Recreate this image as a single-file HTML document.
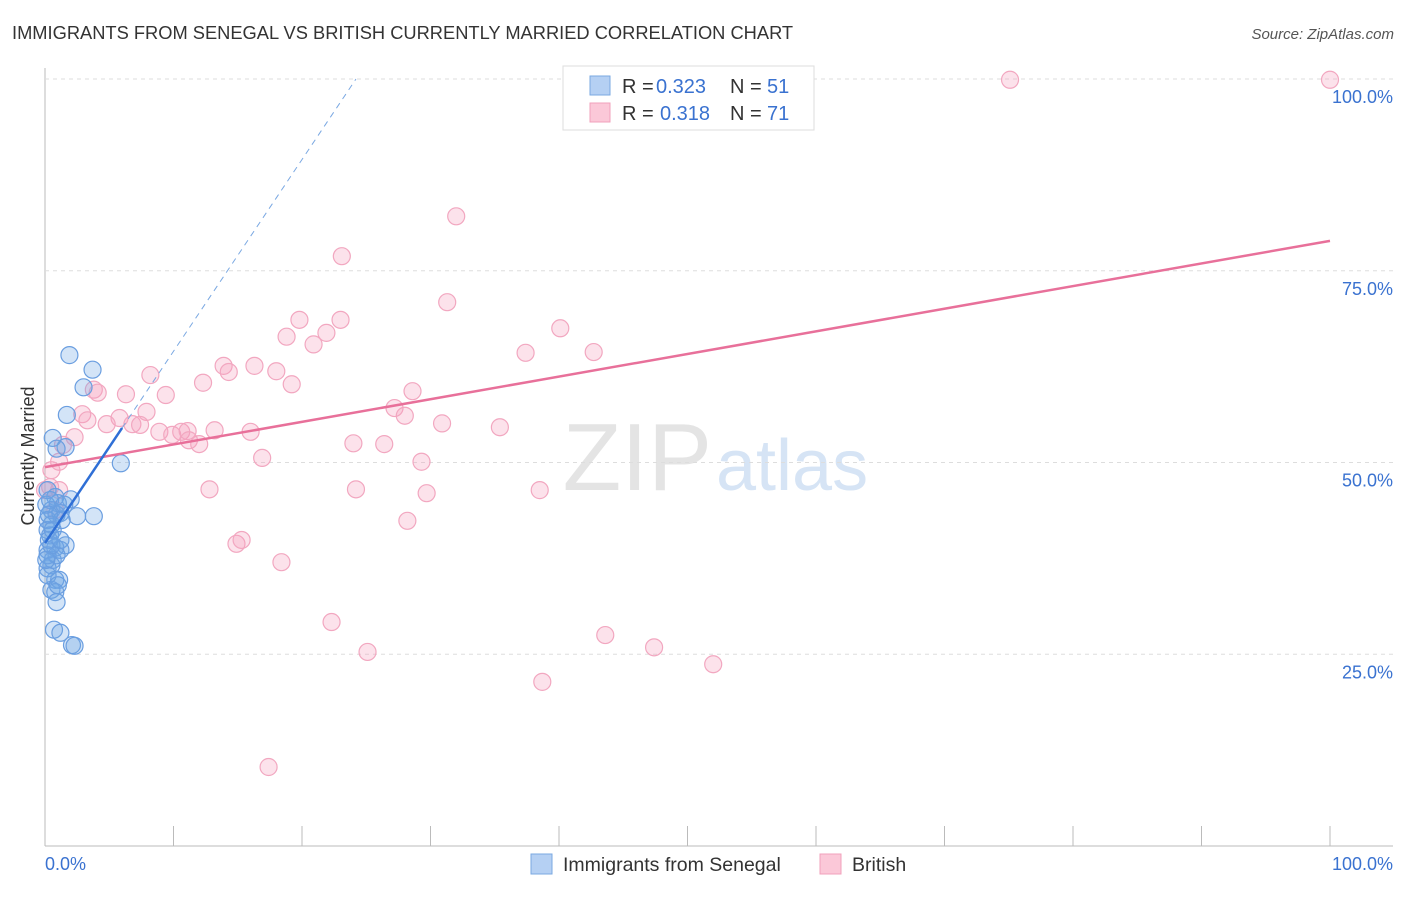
<!DOCTYPE html>
<html><head><meta charset="utf-8"><style>
body{margin:0;background:#fff;font-family:"Liberation Sans",sans-serif}
svg text{font-family:"Liberation Sans",sans-serif}
</style></head><body>
<svg id="c" width="1406" height="892">
<text x="12" y="39" font-size="18.3" fill="#333">IMMIGRANTS FROM SENEGAL VS BRITISH CURRENTLY MARRIED CORRELATION CHART</text>
<text x="1394" y="39" font-size="15" fill="#555" font-style="italic" text-anchor="end">Source: ZipAtlas.com</text>
<text x="712" y="490" font-size="96" fill="#e4e4e4" font-family="Liberation Serif" text-anchor="end">ZIP</text>
<text x="716" y="490" font-size="72" fill="#d6e4f5">atlas</text>
<text transform="translate(34,456) rotate(-90)" font-size="18" fill="#333" text-anchor="middle">Currently Married</text>
<g id="grid"></g><g id="marks"></g>
<g>
<rect x="563" y="66" width="251" height="64" fill="#fff" stroke="#ddd"/>
<rect x="590" y="76" width="20" height="19" fill="#b5d0f3" stroke="#7aa8e2"/>
<rect x="590" y="103" width="20" height="19" fill="#fbc8d8" stroke="#f0a0bb"/>
<text x="622" y="93" font-size="20" fill="#333">R =</text>
<text x="656" y="93" font-size="20" fill="#3a72d0">0.323</text>
<text x="730" y="93" font-size="20" fill="#333">N =</text>
<text x="767" y="93" font-size="20" fill="#3a72d0">51</text>
<text x="622" y="120" font-size="20" fill="#333">R =</text>
<text x="660" y="120" font-size="20" fill="#3a72d0">0.318</text>
<text x="730" y="120" font-size="20" fill="#333">N =</text>
<text x="767" y="120" font-size="20" fill="#3a72d0">71</text>
</g>
<g>
<rect x="531" y="854" width="21" height="20" fill="#b5d0f3" stroke="#7aa8e2"/>
<text x="563" y="871" font-size="19.5" fill="#333">Immigrants from Senegal</text>
<rect x="820" y="854" width="21" height="20" fill="#fbc8d8" stroke="#f0a0bb"/>
<text x="852" y="871" font-size="19.5" fill="#333">British</text>
</g>
</svg>
<script>
const blueX=[1.9,3.7,3.0,1.7,0.6,1.6,0.9,5.9,2.0,0.8,1.0,0.2,0.5,0.9,0.2,2.5,3.8,1.2,0.2,0.4,1.6,0.8,1.2,0.2,0.6,0.2,0.5,0.8,1.1,0.5,0.8,0.9,0.7,1.2,2.1,2.3,0.3,0.5,0.1,0.4,0.2,1.3,0.9,1.0,0.2,0.6,0.3,1.5,0.5,0.1,1.2];
const blueY=[64.0,62.1,59.8,56.2,53.2,52.0,51.8,49.9,45.2,45.5,44.7,46.4,43.8,43.2,42.5,43.0,43.0,43.4,41.2,40.5,39.2,38.9,38.6,38.6,37.3,36.2,36.6,34.7,34.7,33.4,33.1,31.8,28.2,27.8,26.2,26.1,39.9,41.9,44.5,45.1,35.3,42.5,37.9,34.0,37.9,41.2,43.2,44.5,39.2,37.3,39.9];
const pinkX=[75.1,100,50.0,32.0,23.1,31.3,19.8,23.0,18.8,21.9,20.9,40.1,37.4,42.7,13.9,14.3,16.3,18.0,8.2,12.3,19.2,3.8,4.1,6.3,9.4,28.6,27.2,28.0,2.9,3.3,5.8,7.9,4.8,6.8,7.4,8.9,9.9,10.6,11.1,13.2,16.0,11.2,12.0,30.9,35.4,24.0,26.4,2.3,1.4,16.9,29.3,1.1,0.5,1.1,0.4,12.8,24.2,29.7,38.5,28.2,14.9,15.3,18.4,22.3,43.6,47.4,25.1,52.0,38.7,17.4,0,0.8];
const pinkY=[99.9,99.9,95.0,82.1,76.9,70.9,68.6,68.6,66.4,66.9,65.4,67.5,64.3,64.4,62.6,61.8,62.6,61.9,61.4,60.4,60.2,59.5,59.1,58.9,58.8,59.3,57.1,56.1,56.3,55.5,55.8,56.6,55.0,55.0,54.9,54.0,53.6,54.0,54.1,54.2,54.0,52.9,52.4,55.1,54.6,52.5,52.4,53.3,52.3,50.6,50.1,50.1,49.0,46.4,46.8,46.5,46.5,46.0,46.4,42.4,39.4,39.9,37.0,29.2,27.5,25.9,25.3,23.7,21.4,10.3,46.4,43.8];
const yTicks=[25,50,75,100];
const xTickVals=[0,10,20,30,40,50,60,70,80,90,100];
const trendPink=[49.4,0.295];
const trendBlue=[39.5,2.5];
const sx=v=>45+v*12.85, sy=v=>846-v*7.67;
const NS="http://www.w3.org/2000/svg";
function mk(t,a,p){const e=document.createElementNS(NS,t);for(const k in a)e.setAttribute(k,a[k]);p.appendChild(e);return e;}
const g=document.getElementById('grid'),m=document.getElementById('marks');
mk('line',{x1:45,y1:68,x2:45,y2:846,stroke:'#bbb'},g);
mk('line',{x1:45,y1:846,x2:1393,y2:846,stroke:'#bbb'},g);
yTicks.forEach(v=>{
 const l=mk('line',{x1:45,y1:sy(v),x2:1393,y2:sy(v),stroke:'#ddd','stroke-dasharray':'4,4'},g);
 
 
 const t=mk('text',{x:1393,y:sy(v)+24,'font-size':18,fill:'#3a72d0','text-anchor':'end'},g);t.textContent=v.toFixed(1)+'%';
 
 
});
xTickVals.forEach(v=>{if(v>0){const l=mk('line',{x1:sx(v),y1:826,x2:sx(v),y2:846,stroke:'#bbb'},g);
 
 }});
[[0,'0.0%','start',45],[100,'100.0%','end',1393]].forEach(a=>{const t=mk('text',{x:a[3],y:870,'font-size':18,fill:'#3a72d0','text-anchor':a[2]},g);t.textContent=a[1];
 
 });
pinkX.forEach((x,i)=>{const c=mk('circle',{cx:sx(x),cy:sy(pinkY[i]),r:8.5,fill:'rgba(244,160,190,0.3)',stroke:'#f2a7c0','stroke-width':1.2},m);
 
 });
blueX.forEach((x,i)=>{const c=mk('circle',{cx:sx(x),cy:sy(blueY[i]),r:8.5,fill:'rgba(110,165,230,0.3)',stroke:'#6a9ee0','stroke-width':1.2},m);
 
 });
let l=mk('line',{x1:sx(0),y1:sy(trendPink[0]),x2:sx(100),y2:sy(trendPink[0]+100*trendPink[1]),stroke:'#e8709a','stroke-width':2.5},m);


const xe=(100-trendBlue[0])/trendBlue[1];
l=mk('line',{x1:sx(6),y1:sy(trendBlue[0]+6*trendBlue[1]),x2:sx(xe),y2:sy(100),stroke:'#7aa8e2','stroke-width':1,'stroke-dasharray':'6,5'},m);


l=mk('line',{x1:sx(0),y1:sy(trendBlue[0]),x2:sx(6),y2:sy(trendBlue[0]+6*trendBlue[1]),stroke:'#2f6fd6','stroke-width':2.5},m);


</script>
</body></html>
